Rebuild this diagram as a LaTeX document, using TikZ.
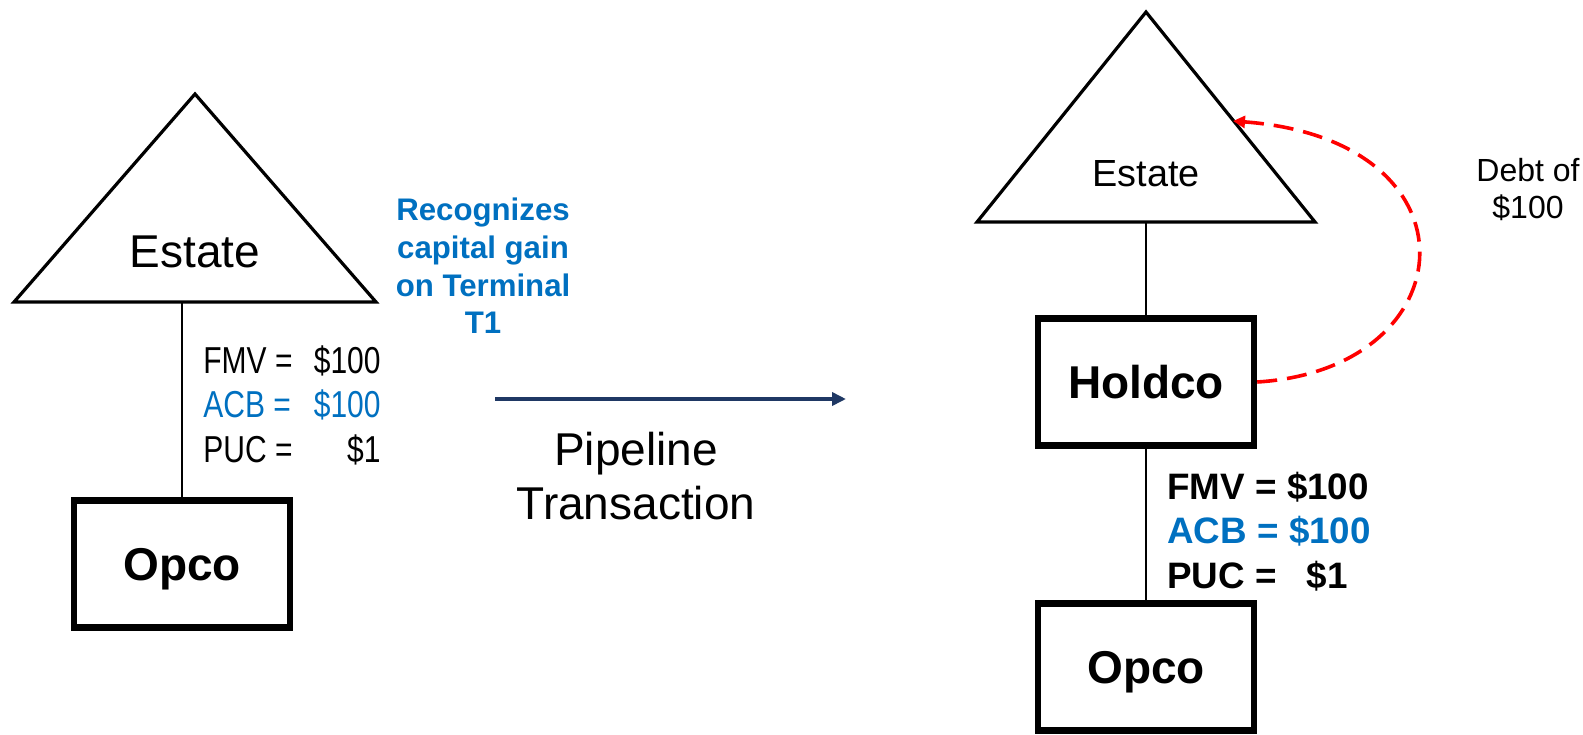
\documentclass[tikz,border=0pt]{standalone}
\usepackage{fontspec}
\setmainfont{Liberation Sans}
\newfontfamily\narrowfont{Liberation Sans}[FakeStretch=0.8]
\usetikzlibrary{arrows.meta}
\definecolor{acbblue}{RGB}{0,112,192}
\definecolor{navy}{RGB}{31,56,100}
\definecolor{debtred}{RGB}{255,0,0}
\begin{document}
\begin{tikzpicture}[x=0.5pt, y=-0.5pt,
		entity/.style={draw, line width=3.2pt, minimum width=108pt, minimum height=63.5pt, inner sep=0pt, text depth=0pt, font=\fontsize{23}{27}\selectfont\bfseries},
		owner/.style={line width=1.6pt, line join=miter},
		link/.style={line width=0.75pt},
		narrowval/.style={inner sep=0pt, font=\narrowfont\fontsize{18.75}{22}\selectfont},
		boldval/.style={inner sep=0pt, anchor=base west, font=\fontsize{18.4}{22}\selectfont\bfseries}]
			\useasboundingbox (0,0) rectangle (1583,734);

			\draw[owner] (195,94) -- (376,302) -- (14,302) -- cycle;
			\coordinate (estL) at (182,302);
			\node[font=\fontsize{23}{27}\selectfont, anchor=base] (estLtext) at (195,267) {Estate};
			\node[entity] (opcoL) at (182,564) {Opco};
			\draw[link] (estL) -- (opcoL.north);

			\node[narrowval, anchor=base west] (fmvL) at (203,373) {FMV =};
			\node[narrowval, anchor=base east] (fmvLv) at (381,373) {\$100};
			\node[narrowval, anchor=base west, text=acbblue] (acbL) at (203,417) {ACB =};
			\node[narrowval, anchor=base east, text=acbblue] (acbLv) at (381,417) {\$100};
			\node[narrowval, anchor=base west] (pucL) at (203,462) {PUC =};
			\node[narrowval, anchor=base east] (pucLv) at (381,462) {\$1};

			\node[align=center, text=acbblue, font=\fontsize{15.6}{18.8}\selectfont\bfseries] (gain) at (483,266) {Recognizes\\capital gain\\on Terminal\\T1};

			\coordinate (pipeA) at (495,399);
			\coordinate (pipeB) at (846,399);
			\draw[color=navy, line width=2pt, -{Triangle[length=7pt, width=6.5pt]}] (pipeA) -- (pipeB);
			\node[align=center, font=\fontsize{23}{27}\selectfont] (pipe) at (636,476) {Pipeline\\Transaction};

			\draw[owner] (1146,12) -- (1315,222) -- (977,222) -- cycle;
			\coordinate (estR) at (1146,222);
			\coordinate (debttip) at (1233,121);
			\node[font=\fontsize{18.9}{23}\selectfont, anchor=base] (estRtext) at (1146,186) {Estate};
			\node[entity] (holdco) at (1146,382) {Holdco};
			\node[entity] (opcoR) at (1146,667) {Opco};
			\draw[link] (estR) -- (holdco.north);
			\draw[link] (holdco.south) -- (opcoR.north);

			\node[boldval] (fmvR) at (1167,499) {FMV = \$100};
			\node[boldval, text=acbblue] (acbR) at (1167,543) {ACB = \$100};
			\node[boldval] (pucR) at (1167,588) {PUC =\hspace{15pt}\$1};

			\draw[color=debtred, line width=1.8pt, dash pattern=on 10pt off 5pt, -{Triangle[length=6pt, width=6pt]}] (holdco.east) .. controls +(210,-13) and +(252,19) .. (debttip);
			\node[align=center, font=\fontsize{16}{18.5}\selectfont] (debt) at (1528,190) {Debt of\\\$100};
		\end{tikzpicture}
\end{document}
